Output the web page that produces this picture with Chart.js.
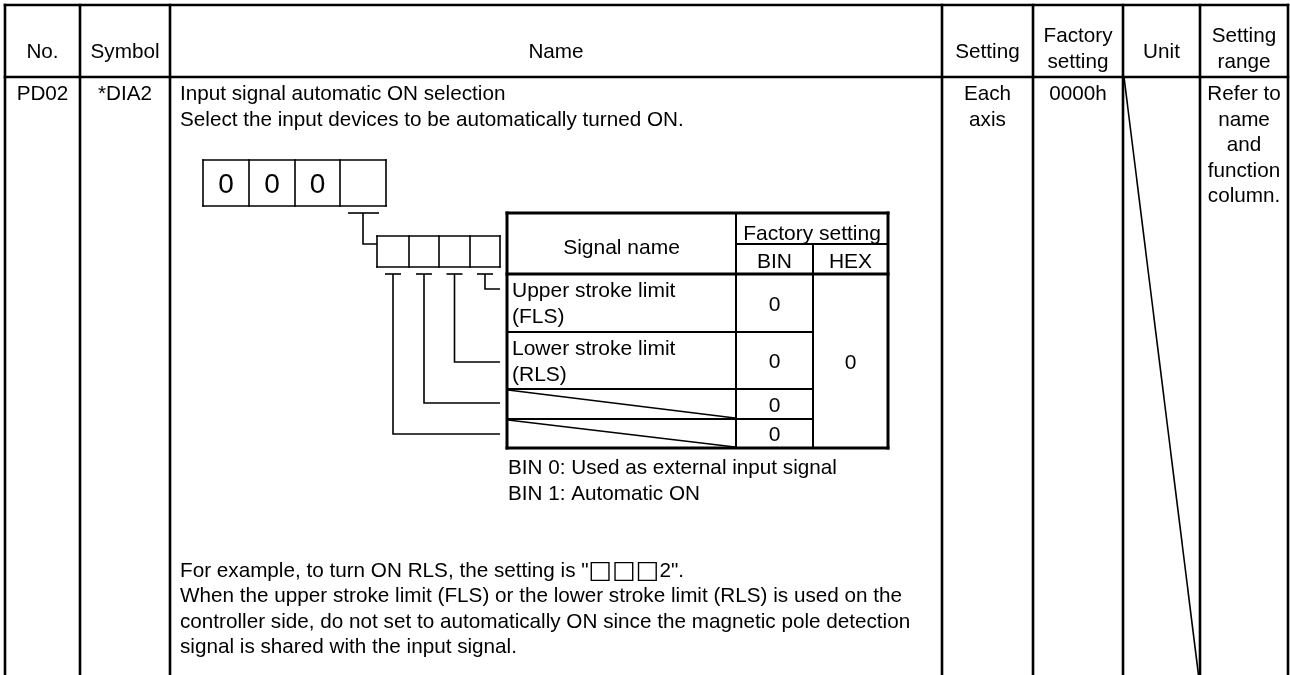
<!DOCTYPE html>
<html>
<head>
<meta charset="utf-8">
<title>PD02 *DIA2</title>
<script src="https://cdn.jsdelivr.net/npm/chart.js@4.4.1/dist/chart.umd.min.js"></script>
<style>
  html, body { margin: 0; padding: 0; background: #fff; }
  #wrap { width: 1290px; height: 675px; }
</style>
</head>
<body>
<div id="wrap"><canvas id="chart" width="1290" height="675"></canvas></div>
<script>
// table content
const headers = [['No.'], ['Symbol'], ['Name'], ['Setting'], ['Factory', 'setting'], ['Unit'], ['Setting', 'range']];
const paramNo = 'PD02';
const paramSymbol = '*DIA2';
const nameText = ['Input signal automatic ON selection', 'Select the input devices to be automatically turned ON.'];
const settingText = ['Each', 'axis'];
const factoryText = ['0000h'];
const rangeText = ['Refer to', 'name', 'and', 'function', 'column.'];
const digits = ['0', '0', '0', ''];
const signalHeader = 'Signal name';
const factoryHeader = 'Factory setting';
const subHeaders = ['BIN', 'HEX'];
const signalNames = [['Upper stroke limit', '(FLS)'], ['Lower stroke limit', '(RLS)'], null, null];
const binValues = ['0', '0', '0', '0'];
const hexValue = '0';
const binNotes = ['BIN 0: Used as external input signal', 'BIN 1: Automatic ON'];
const exampleText = [
  'For example, to turn ON RLS, the setting is "\u25A1\u25A1\u25A12".',
  'When the upper stroke limit (FLS) or the lower stroke limit (RLS) is used on the',
  'controller side, do not set to automatically ON since the magnetic pole detection',
  'signal is shared with the input signal.'
];

// layout, in picture units
const FONT = '"Liberation Sans", Arial, sans-serif';
const colEdges = [5, 80, 170, 942, 1033, 1123, 1200, 1288];
const tableTop = 5, headerBottom = 77, tableBottom = 675;
const boxEdges = [203, 249, 295, 340, 386], boxTop = 160, boxBottom = 206;
const bitEdges = [377, 409, 439, 470, 500], bitTop = 236, bitBottom = 267;
const inCols = [507, 736, 813, 888];
const inRows = [213, 244, 274, 332, 389, 419, 448];

const tablePlugin = {
  id: 'paramTable',
  afterDraw(chart) {
    const ctx = chart.ctx;
    const sx = v => chart.scales.x.getPixelForValue(v);
    const sy = v => chart.scales.y.getPixelForValue(v);

    function line(x1, y1, x2, y2, w) {
      ctx.beginPath();
      ctx.lineWidth = w;
      ctx.moveTo(sx(x1), sy(y1));
      ctx.lineTo(sx(x2), sy(y2));
      ctx.stroke();
    }
    function poly(pts, w) {
      ctx.beginPath();
      ctx.lineWidth = w;
      pts.forEach((p, i) => i ? ctx.lineTo(sx(p[0]), sy(p[1])) : ctx.moveTo(sx(p[0]), sy(p[1])));
      ctx.stroke();
    }
    function text(str, x, y, align, size) {
      ctx.font = (size || 20.7) + 'px ' + FONT;
      ctx.textAlign = align || 'left';
      ctx.textBaseline = 'alphabetic';
      ctx.fillText(str, sx(x), sy(y));
    }
    // left aligned text where the white squares are drawn a bit larger
    function textSquares(str, x, y) {
      let px = sx(x);
      ctx.textAlign = 'left';
      ctx.textBaseline = 'alphabetic';
      str.split(/(\u25A1+)/).forEach(part => {
        if (!part) return;
        const sq = part[0] === '\u25A1';
        ctx.font = (sq ? 25 : 20.7) + 'px ' + (sq ? '"DejaVu Sans", ' : '') + FONT;
        ctx.fillText(part, px, sy(y) + (sq ? 1 : 0));
        px += ctx.measureText(part).width;
      });
    }
    const mid = (a, b) => (a + b) / 2;

    ctx.save();
    ctx.strokeStyle = '#000';
    ctx.fillStyle = '#000';
    ctx.lineCap = 'square';

    // main grid
    line(colEdges[0], tableTop, colEdges[7], tableTop, 2.6);
    line(colEdges[0], headerBottom, colEdges[7], headerBottom, 2.6);
    colEdges.forEach(x => line(x, tableTop, x, tableBottom + 2, 2.6));
    ctx.lineCap = 'butt';
    line(colEdges[5] + 1, headerBottom, colEdges[6] - 1.5, tableBottom, 1.6);

    // header texts
    headers.forEach((h, i) => {
      const cx = mid(colEdges[i], colEdges[i + 1]);
      if (h.length === 1) text(h[0], cx, 58, 'center');
      else h.forEach((t, j) => text(t, cx, 42 + j * 26, 'center'));
    });

    // row texts
    const step = 25.5, first = 100;
    text(paramNo, mid(colEdges[0], colEdges[1]), first, 'center');
    text(paramSymbol, mid(colEdges[1], colEdges[2]), first, 'center');
    nameText.forEach((t, j) => text(t, colEdges[2] + 10, first + j * step, 'left'));
    settingText.forEach((t, j) => text(t, mid(colEdges[3], colEdges[4]), first + j * step, 'center'));
    factoryText.forEach((t, j) => text(t, mid(colEdges[4], colEdges[5]), first + j * step, 'center'));
    rangeText.forEach((t, j) => text(t, mid(colEdges[6], colEdges[7]), first + j * step, 'center'));

    // digit boxes
    ctx.lineCap = 'square';
    line(boxEdges[0], boxTop, boxEdges[4], boxTop, 1.6);
    line(boxEdges[0], boxBottom, boxEdges[4], boxBottom, 1.6);
    boxEdges.forEach(x => line(x, boxTop, x, boxBottom, 1.6));
    digits.forEach((d, i) => text(d, mid(boxEdges[i], boxEdges[i + 1]), mid(boxTop, boxBottom) + 10, 'center', 28));

    // branch from the last digit to the bit boxes
    ctx.lineCap = 'butt';
    const lastCx = mid(boxEdges[3], boxEdges[4]);
    line(lastCx - 15, boxBottom + 7, lastCx + 16, boxBottom + 7, 1.6);
    poly([[lastCx, boxBottom + 7], [lastCx, 244], [bitEdges[0], 244]], 1.6);

    // bit boxes
    ctx.lineCap = 'square';
    line(bitEdges[0], bitTop, bitEdges[4], bitTop, 1.6);
    line(bitEdges[0], bitBottom, bitEdges[4], bitBottom, 1.6);
    bitEdges.forEach(x => line(x, bitTop, x, bitBottom, 1.6));

    // leaders from bits to the signal rows
    ctx.lineCap = 'butt';
    const rowTargets = [434, 403, 362, 289];
    for (let i = 0; i < 4; i++) {
      const cx = mid(bitEdges[i], bitEdges[i + 1]);
      line(cx - 8, bitBottom + 7, cx + 8, bitBottom + 7, 1.6);
      poly([[cx, bitBottom + 7], [cx, rowTargets[i]], [bitEdges[4], rowTargets[i]]], 1.6);
    }

    // inner table
    ctx.lineCap = 'square';
    const [cL, cS, cB, cR] = inCols;
    line(cL, inRows[0], cR, inRows[0], 3);
    line(cL, inRows[6], cR, inRows[6], 3);
    line(cL, inRows[0], cL, inRows[6], 3);
    line(cR, inRows[0], cR, inRows[6], 3);
    line(cL, inRows[2], cR, inRows[2], 3);
    line(cS, inRows[1], cR, inRows[1], 2);
    line(cS, inRows[0], cS, inRows[6], 2);
    line(cB, inRows[1], cB, inRows[6], 2);
    for (let r = 3; r < 6; r++) line(cL, inRows[r], cB, inRows[r], 2);
    ctx.lineCap = 'butt';
    for (let r = 0; r < 4; r++) {
      if (!signalNames[r]) line(cL + 1, inRows[r + 2] + 1, cS - 1, inRows[r + 3] - 1, 1.6);
    }

    text(signalHeader, mid(cL, cS), 254, 'center', 21);
    text(factoryHeader, mid(cS, cR), 239.5, 'center', 21);
    text(subHeaders[0], mid(cS, cB), 267.5, 'center', 21);
    text(subHeaders[1], mid(cB, cR), 267.5, 'center', 21);
    signalNames.forEach((s, r) => {
      if (s) s.forEach((t, j) => text(t, cL + 5, inRows[r + 2] + 23 + j * 26, 'left', 21));
    });
    binValues.forEach((v, r) => text(v, mid(cS, cB), mid(inRows[r + 2], inRows[r + 3]) + 7.5, 'center', 21));
    text(hexValue, mid(cB, cR), mid(inRows[2], inRows[6]) + 7.5, 'center', 21);

    binNotes.forEach((t, j) => text(t, cL + 1, 474 + j * 26, 'left'));
    exampleText.forEach((t, j) => textSquares(t, colEdges[2] + 10, 576.5 + j * step));

    ctx.restore();
  }
};

new Chart(document.getElementById('chart'), {
  type: 'scatter',
  data: { datasets: [] },
  options: {
    responsive: false,
    animation: false,
    devicePixelRatio: 1,
    layout: { padding: 0 },
    plugins: { legend: { display: false }, tooltip: { enabled: false } },
    scales: {
      x: { type: 'linear', min: 0, max: 1290, display: false },
      y: { type: 'linear', min: 0, max: 675, reverse: true, display: false }
    }
  },
  plugins: [tablePlugin]
});
</script>
</body>
</html>
